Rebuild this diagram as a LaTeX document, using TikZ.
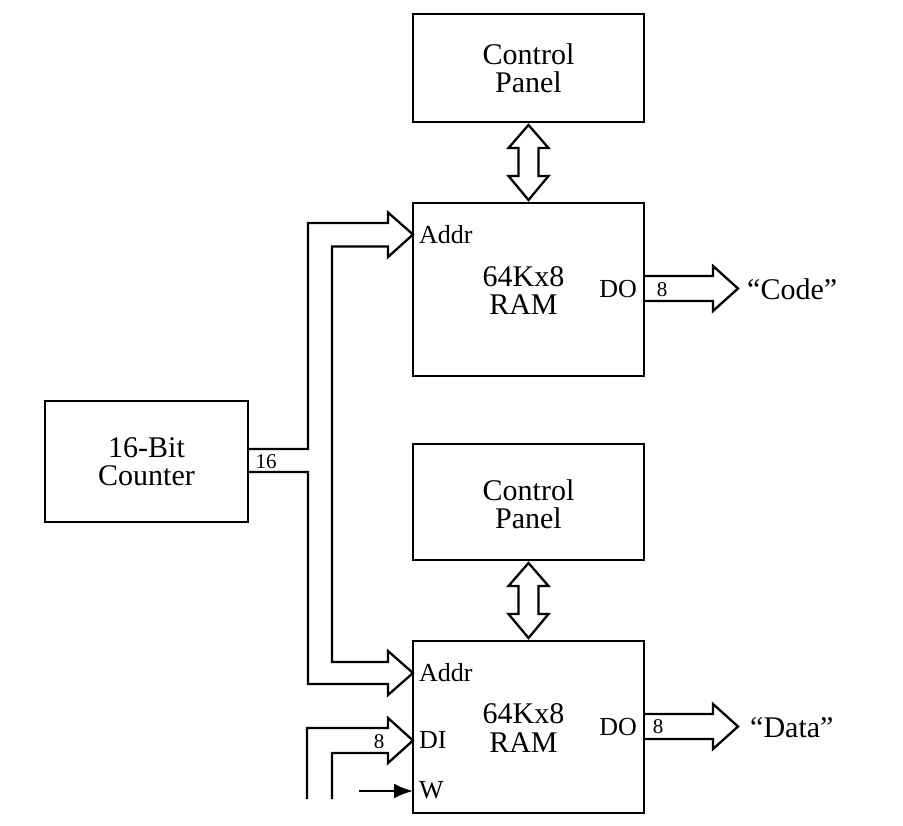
\documentclass[tikz,border=0pt]{standalone}
\usepackage{fontspec}
\setmainfont{Liberation Serif}
\usetikzlibrary{calc,arrows.meta}
\begin{document}
\begin{tikzpicture}[x=1pt,y=-1pt,
  blk/.style={draw,line width=2.3pt,inner sep=0pt,outer sep=0pt,fill=white},
  main/.style={font=\fontsize{30}{28.5}\selectfont,align=center,inner sep=0pt},
  lbl/.style={font=\fontsize{26}{25}\selectfont,inner sep=0pt},
  num/.style={font=\fontsize{21}{23}\selectfont,inner sep=0pt},
  bus/.style={draw,line width=2.3pt,line join=miter,fill=white},
  wire/.style={draw,line width=2.2pt,-{Latex[length=19pt,width=15pt]}}]
\useasboundingbox (0,0) rectangle (903,826);
% boxes
\node[blk,minimum width=231pt,minimum height=108pt] (cp1) at (528.5,68) {};
\node[main] at (cp1.center) {Control\\Panel};
\node[blk,minimum width=231pt,minimum height=173pt] (ram1) at (528.5,289.5) {};
\node[main] (ramt1) at ($(ram1.center)+(-5,1)$) {64Kx8\\RAM};
\node[blk,minimum width=203pt,minimum height=121pt] (counter) at (146.5,461.5) {};
\node[main] at (counter.center) {16-Bit\\Counter};
\node[blk,minimum width=231pt,minimum height=116pt] (cp2) at (528.5,502) {};
\node[main] at ($(cp2.center)+(0,2)$) {Control\\Panel};
\node[blk,minimum width=231pt,minimum height=172pt] (ram2) at (528.5,727) {};
\node[main] (ramt2) at ($(ram2.center)+(-5,1)$) {64Kx8\\RAM};
% port coordinates
\coordinate (addr1) at ($(ram1.north west)+(0,31.5)$);
\coordinate (addr2) at ($(ram2.north west)+(0,32)$);
\coordinate (di) at ($(ram2.north west)+(0,99.5)$);
\coordinate (wp) at ($(ram2.north west)+(0,150)$);
\coordinate (do1) at ($(ram1.north east)+(0,85.5)$);
\coordinate (do2) at ($(ram2.north east)+(0,85.5)$);
\coordinate (cnt) at (counter.east);
\coordinate (dibot) at (307,799);
\coordinate (wstart) at (359,791);
% double arrows
\draw[bus] ($(cp1.south)+(0,3)$) -- ++(20,23) -- ++(-10,0) -- ++(0,28) -- ++(10,0) -- ++(-20,24) -- ++(-20,-24) -- ++(10,0) -- ++(0,-28) -- ++(-10,0) -- cycle;
\draw[bus] ($(cp2.south)+(0,3)$) -- ++(20,23) -- ++(-10,0) -- ++(0,28) -- ++(10,0) -- ++(-20,24) -- ++(-20,-24) -- ++(10,0) -- ++(0,-28) -- ++(-10,0) -- cycle;
% address bus
\draw[bus,fill=none] ($(cnt)+(0,-12.5)$) -- ++(60,0) -- ++(0,-226) -- ++(80,0) -- ++(0,-10.5) -- (addr1) -- ++(-25,22.5) -- ++(0,-10.5) -- ++(-56,0) -- ++(0,415.5) -- ++(56,0) -- ++(0,-11) -- (addr2) -- ++(-25,22) -- ++(0,-11) -- ++(-80,0) -- ++(0,-212) -- ($(cnt)+(0,10.5)$);
% data in bus
\draw[bus,fill=none] (dibot) -- ++(0,-71) -- ++(81,0) -- ++(0,-10) -- (di) -- ++(-25,22.5) -- ++(0,-10) -- ++(-56,0) -- ++(0,46);
% write line
\draw[wire] (wstart) -- (wp);
% data out buses
\draw[bus,fill=none] ($(do1)+(0,-12.5)$) -- ++(69,0) -- ++(0,-10) -- ++(25,22.5) -- ++(-25,22.5) -- ++(0,-10) -- ++(-69,0);
\draw[bus,fill=none] ($(do2)+(0,-12.5)$) -- ++(69,0) -- ++(0,-10) -- ++(25,22.5) -- ++(-25,22.5) -- ++(0,-10) -- ++(-69,0);
% labels
\node[lbl,anchor=west] (la1) at ($(addr1)+(6,0)$) {Addr};
\node[lbl,anchor=west] (la2) at ($(addr2)+(6,0)$) {Addr};
\node[lbl,anchor=west] (ldi) at ($(di)+(6,0)$) {DI};
\node[lbl,anchor=west] (lw) at ($(wp)+(6,-1)$) {W};
\node[lbl,anchor=east] (ldo1) at ($(do1)+(-7,1)$) {DO};
\node[lbl,anchor=east] (ldo2) at ($(do2)+(-7,1)$) {DO};
\node[num] (n1) at ($(do1)+(18,1)$) {8};
\node[num] (n2) at ($(do2)+(14,0)$) {8};
\node[num] (n3) at ($(di)+(-34,1.5)$) {8};
\node[num] (n16) at ($(cnt)+(18,0.5)$) {16};
\node[main,anchor=west] (code) at ($(do1)+(103,1)$) {“Code”};
\node[main,anchor=west] (data) at ($(do2)+(106,1)$) {“Data”};
\end{tikzpicture}
\end{document}
